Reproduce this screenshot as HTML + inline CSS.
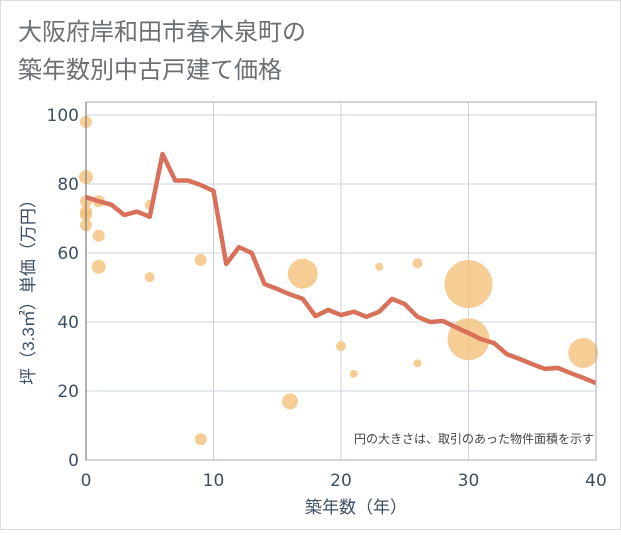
<!DOCTYPE html>
<html><head><meta charset="utf-8"><style>
body{margin:0;background:#fff;}
#wrap{position:relative;width:621px;height:530px;}
svg text{font-family:"Liberation Sans","Noto Sans CJK JP",sans-serif;}
svg text.tick{font-family:"DejaVu Sans","Liberation Sans",sans-serif;}
</style></head><body>
<div id="wrap">
<svg id="chart" width="621" height="530" xmlns="http://www.w3.org/2000/svg">
<rect x="0.5" y="0.5" width="620" height="529" fill="#fff" stroke="#ddd"/>
<text x="18" y="40" font-size="24" fill="#6b7075">大阪府岸和田市春木泉町の</text>
<text x="18" y="78" font-size="24" fill="#6b7075">築年数別中古戸建て価格</text>
<g id="grid"></g>
<g id="bubbles"></g>
<g id="lines"></g>
<g id="axes"></g>
<text x="594" y="443" font-size="12" fill="#444" text-anchor="end">円の大きさは、取引のあった物件面積を示す</text>
<text x="356" y="513" font-size="17" fill="#3d4f63" text-anchor="middle">築年数（年）</text>
<text transform="translate(34,288) rotate(-90)" font-size="17" fill="#3d4f63" text-anchor="middle">坪（3.3㎡）単価（万円）</text>
</svg>
</div>
<script>
const xTicks=[0,10,20,30,40];
const yTicks=[0,20,40,60,80,100];
const lineYears=[0,1,2,3,4,5,6,7,8,9,10,11,12,13,14,15,16,17,18,19,20,21,22,23,24,25,26,27,28,29,30,31,32,33,34,35,36,37,38,39,40];
const linePrices=[76.2,75,74,71,72,70.5,88.7,81,81,79.7,78,56.8,61.7,60,51,49.6,48,46.7,41.7,43.5,42,43,41.5,43,46.7,45.2,41.5,40,40.3,38.5,36.8,35,33.9,30.7,29.3,27.8,26.4,26.7,25.2,23.8,22.3];
const bubbleYears=[0,0,0,0,0,0,1,1,1,5,5,9,9,16,17,20,21,23,26,26,30,30,39];
const bubblePrices=[98,82,75,72,71,68,75,65,56,74,53,58,6,17,54,33,25,56,57,28,51,35,31];
const bubbleSizes=[6,7,6,6,6,6,6,6,7,5,5,6,6,8,15,5,4,4,5,4,24,21,15];
const X0=86,X1=596,Y0=460,Y1=115;
const sx=v=>X0+(v-0)/40*(X1-X0);
const sy=v=>Y0-(v-0)/100*(Y0-Y1);
const NS="http://www.w3.org/2000/svg";
function mk(tag,attrs,parent){const e=document.createElementNS(NS,tag);for(const k in attrs)e.setAttribute(k,attrs[k]);parent.appendChild(e);return e;}
const grid=document.getElementById('grid'),axes=document.getElementById('axes');
xTicks.forEach(t=>{
 const l=mk('line',{x1:sx(t),x2:sx(t),y1:102,y2:Y0,stroke:'#c8d4e0','stroke-width':1},grid);
 
 
 const tx=mk('text',{x:sx(t),y:486,'font-size':17,fill:'#3d4f63','text-anchor':'middle','class':'tick'},axes);
 tx.textContent=t;
 
 
});
yTicks.forEach(t=>{
 const l=mk('line',{x1:X0,x2:X1,y1:sy(t),y2:sy(t),stroke:'#c8d4e0','stroke-width':1},grid);
 
 
 const tx=mk('text',{x:79,y:sy(t)+6,'font-size':17,fill:'#3d4f63','text-anchor':'end','class':'tick'},axes);
 tx.textContent=t;
 
 
});
const fr=mk('rect',{x:X0,y:102,width:X1-X0,height:Y0-102,fill:'none',stroke:'#aab','stroke-width':1},axes);


const ax=mk('line',{x1:X0,x2:X0,y1:102,y2:Y0,stroke:'#666','stroke-width':1},axes);


const bg=document.getElementById('bubbles');
bubbleYears.forEach((yr,i)=>{
 const c=mk('circle',{cx:sx(yr),cy:sy(bubblePrices[i]),r:bubbleSizes[i],fill:'#f3c07a','fill-opacity':0.8},bg);
 
 
});
const pts=lineYears.map((y,i)=>sx(y)+','+sy(linePrices[i])).join(' ');
const pl=mk('polyline',{points:pts,fill:'none',stroke:'#d9705a','stroke-width':4.5,'stroke-linejoin':'round'},document.getElementById('lines'));


</script>
</body></html>
